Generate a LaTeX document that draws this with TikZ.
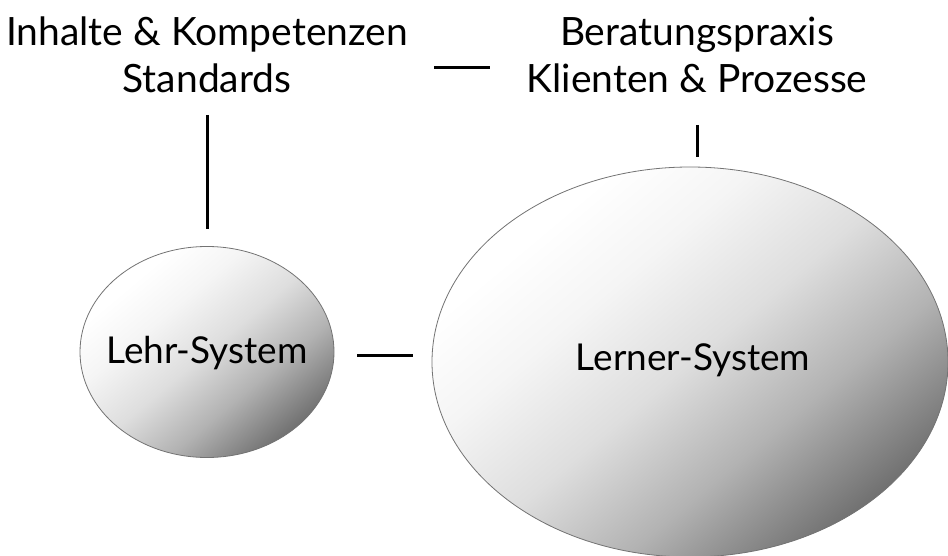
\documentclass[tikz,border=0pt]{standalone}
\usepackage{fontspec}
\setmainfont{Lato}
\usetikzlibrary{shapes.geometric,calc}
\pgfdeclareverticalshading{sysshade}{100bp}{color(0bp)=(black!62); color(25bp)=(black!56); color(38bp)=(black!30); color(50bp)=(black!13); color(62bp)=(black!4); color(72bp)=(white); color(100bp)=(white)}
\tikzset{
  sys/.style={ellipse, draw=black!55, line width=0.8pt, inner sep=0pt,
    shading=sysshade, shading angle=40},
  lbl/.style={align=center, inner sep=0pt, font=\fontsize{37}{47}\selectfont},
  toplbl/.style={align=center, inner sep=0pt, font=\fontsize{39}{47}\selectfont},
  conn/.style={line width=3pt, black}
}
\begin{document}
\begin{tikzpicture}[x=1pt,y=-1pt]
\useasboundingbox (0,0) rectangle (948,556);
\node[sys, minimum width=254, minimum height=211] (lehr) at (207,352) {};
\node[sys, minimum width=516, minimum height=390] (lerner) at (690,362) {};
\node[lbl, anchor=base] (lehrt) at (207,363) {Lehr-System};
\node[lbl, anchor=base] (lernert) at (693,370) {Lerner-System};
\node[toplbl, anchor=north] (tl) at (207,17) {Inhalte \& Kompetenzen\\Standards};
\node[toplbl, anchor=north] (tr) at (697,17) {Beratungspraxis\\Klienten \& Prozesse};
\draw[conn] ($(tl.north)+(0,98)$) -- ($(lehr.north)+(0,-17)$);
\draw[conn] ($(tr.north)+(0,108)$) -- ($(lerner.north)+(7,-10)$);
\draw[conn] ($(tl.north east)+(26,51)$) -- ($(tr.north west)+(-36,51)$);
\draw[conn] ($(lehr.east)+(23,3)$) -- ($(lerner.west)+(-19,-7)$);
\end{tikzpicture}
\end{document}
